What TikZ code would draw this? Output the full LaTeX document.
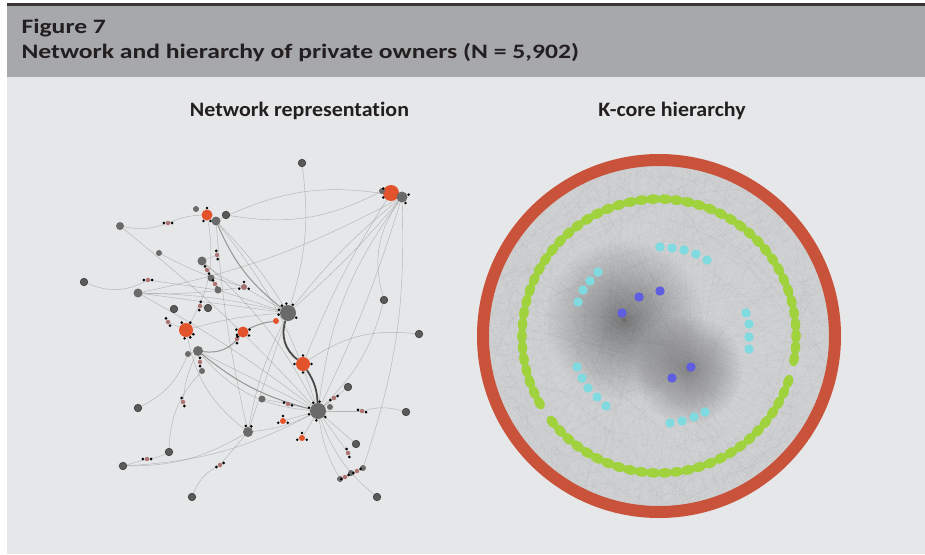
\documentclass[tikz,border=0pt]{standalone}
\usepackage{fontspec}
\setmainfont{Carlito}
\newfontfamily\headfont[FakeStretch=1.25,Ligatures=NoCommon]{Carlito}
\newfontfamily\panelfont[FakeStretch=1.07,Ligatures=NoCommon]{Carlito}
\usetikzlibrary{arrows,backgrounds}

\definecolor{bandgray}{HTML}{A7A8AB}
\definecolor{pagegray}{HTML}{E6E7E8}
\definecolor{inkblack}{HTML}{231F20}
\definecolor{ringred}{HTML}{C9533A}
\definecolor{coregreen}{HTML}{A0D23E}
\definecolor{corecyan}{HTML}{80DBE1}
\definecolor{coreblue}{HTML}{5F5EE0}
\definecolor{diskgray}{HTML}{D0D1D3}
\definecolor{ownred}{HTML}{E2532B}
\definecolor{owngray}{HTML}{6A6A6A}
\definecolor{pairpink}{HTML}{B07272}

\tikzset{
  hub/.style={circle,fill=owngray,inner sep=0pt,minimum size=#1},
  owner/.style={circle,fill=ownred,inner sep=0pt,minimum size=#1},
  leaf/.style={circle,fill=owngray!85!black,draw=black!75,line width=0.7pt,inner sep=0pt,minimum size=7.5pt},
  pair/.style={circle,fill=pairpink,inner sep=0pt,minimum size=4.5pt},
  tie/.style={draw=black!45,line width=0.45pt,opacity=0.55},
  midtie/.style={draw=black!50,line width=1pt,opacity=0.8},
  strongtie/.style={draw=black!72,line width=1.8pt},
  kline/.style={draw=black!50,line width=0.2pt,opacity=0.08},
  heading/.style={anchor=base west,text=inkblack,font=\headfont\bfseries\fontsize{20.5}{24}\selectfont},
  panel/.style={anchor=base,text=inkblack,font=\panelfont\bfseries\fontsize{20.5}{24}\selectfont}
}

\newcommand{\ownpair}[3]{%
  \draw (#2) node (#1) [pair] {};
  \fill[black] (#1.center) ++(#3:4.2) circle (1.5pt);
  \fill[black] (#1.center) ++(#3+180:4.2) circle (1.5pt);}
\newcommand{\tipsat}[3]{%
  \foreach \t in {#3} \fill[black] (#1.center) ++(\t:#2) circle (1.4pt);}

\begin{document}
\begin{tikzpicture}[x=1pt,y=-1pt]
\useasboundingbox (0,0) rectangle (925,554);

\draw (18,33.3) node (fig) [heading] {Figure 7};
\draw (18,58.3) node (cap) [heading] {Network and hierarchy of private owners (N = 5,902)};
\draw (299.5,116.5) node (netlab) [panel] {Network representation};
\draw (672,116.5) node (kclab) [panel] {K-core hierarchy};

\draw (302,163) node (t1) [leaf] {};
\draw (391,193) node (o1) [owner=16pt] {};
\draw (402,197) node (h1) [hub=11pt] {};
\draw (382,191) node (s1) [hub=6pt] {};
\draw (207,215) node (o2) [owner=11pt] {};
\draw (216,221) node (h2) [hub=9pt] {};
\draw (226,215) node (l2) [leaf] {};
\draw (196,209) node (s2) [hub=6pt] {};
\draw (120,226) node (l4) [hub=8pt] {};
\ownpair{p1}{168,223}{0}
\draw (159,253) node (l5) [hub=6pt] {};
\ownpair{p2}{217,255}{80}
\draw (202,261) node (h3) [hub=9pt] {};
\ownpair{p3}{207,270}{60}
\draw (211,278) node (h4) [hub=7pt] {};
\ownpair{p4}{215,284}{60}
\draw (218,290) node (h5) [hub=7pt] {};
\draw (84,282) node (l6) [leaf] {};
\ownpair{p5}{148,280}{0}
\draw (138,293) node (h6) [hub=9pt] {};
\draw (244,287) node (c1) [hub=6pt,fill=pairpink!80!owngray] {};
\draw (174,309) node (l7) [leaf] {};
\draw (208,308) node (l8) [leaf] {};
\ownpair{p6}{200,306}{100}
\ownpair{p7}{168,322}{60}
\draw (186,330) node (o3) [owner=14pt] {};
\draw (243,332) node (o4) [owner=11pt] {};
\ownpair{p8}{237,339}{90}
\draw (288,313) node (h7) [hub=16pt] {};
\draw (276,321) node (o5) [owner=6pt] {};
\draw (384,300) node (l9) [leaf] {};
\draw (419,334) node (l10) [leaf] {};
\draw (198,351) node (h8) [hub=10pt] {};
\draw (188,354) node (s8) [hub=6pt] {};
\ownpair{p9}{200,362}{90}
\draw (202,371) node (h9) [hub=6pt] {};
\draw (303,364) node (o6) [owner=14pt] {};
\draw (138,408) node (l12) [leaf] {};
\ownpair{p10}{183,402}{70}
\draw (262,399) node (h10) [hub=7pt] {};
\ownpair{p11}{288,404}{20}
\ownpair{p12}{334,398}{150}
\draw (348,387) node (l13) [leaf] {};
\draw (318,411) node (h11) [hub=16pt] {};
\draw (330,407) node (s11) [hub=6pt] {};
\ownpair{p13}{362,411}{15}
\draw (406,412) node (l15) [leaf] {};
\draw (283,421) node (o7) [owner=6pt] {};
\draw (248,432) node (h12) [hub=10pt] {};
\draw (302,438) node (o8) [owner=6pt] {};
\draw (356,444) node (l16) [leaf] {};
\draw (169,452) node (l17) [leaf] {};
\ownpair{p14}{147,459}{0}
\draw (123,466) node (l18) [leaf] {};
\ownpair{p15}{220,465}{150}
\ownpair{p16}{348,453}{70}
\draw (363,468) node (h13) [hub=6pt] {};
\draw (351,473) node (h14) [hub=6pt] {};
\draw (340,479) node (h15) [hub=6pt] {};
\ownpair{p17}{357,471}{150}
\ownpair{p18}{345,477}{150}
\draw (192,497) node (l19) [leaf] {};
\draw (377,497) node (l20) [leaf] {};

\tipsat{h7}{9.5}{-60,-100,-130,30,200,170}
\tipsat{h11}{9.5}{-120,-80,160,200,100,40}
\tipsat{o1}{9}{150,210}
\tipsat{h1}{7}{-20,60}
\tipsat{o2}{7}{120,60,-90}
\tipsat{o3}{8.5}{-60,-120,30,60,100}
\tipsat{o4}{7}{30,-20,140,200}
\tipsat{o6}{8.5}{-90,0,180,90}
\tipsat{o7}{5}{-90,20,160}
\tipsat{o8}{5}{-90,20,160}
\tipsat{c1}{5}{-90,20,160}
\tipsat{h12}{6.5}{-60,-110}

\begin{scope}[on background layer]
\fill[white] (0,0) rectangle (925,554);
\fill[bandgray] (7,5) rectangle (925,77);
\fill[inkblack!90] (7,3) rectangle (925,6);
\fill[pagegray] (7,77) rectangle (925,554);

\draw[tie] (t1) to[bend left=12] (h7);
\draw[tie] (l2) to[bend right=18] (s1);
\draw[tie] (h2) to[bend left=18] (h1);
\draw[tie] (l4) to[bend right=15] (p1);
\draw[tie] (p1) to[bend left=10] (o2);
\draw[tie] (h1) to[bend right=6] (h7);
\draw[tie] (h1) to[bend left=4] (h7);
\draw[tie] (h1) to[bend right=14] (h11);
\draw[tie] (h1) to[bend left=4] (h11);
\draw[tie] (h1) to[bend left=10] (h13);
\draw[tie] (h1) to[bend right=25] (l9);
\draw[tie] (h1) to[bend left=8] (h6);
\draw[midtie] (h2) to[bend right=14] (h7);
\draw[tie] (h2) to[bend left=6] (h7);
\draw[tie] (h2) to[bend left=10] (h11);
\draw[tie] (h2) to[bend right=4] (h12);
\draw[tie] (l4) to[bend left=4] (h11);
\draw[tie] (l6) to[bend right=25] (p5);
\draw[tie] (p5) -- (h5);
\draw[tie] (h6) -- (h7);
\draw[tie] (h6) to[bend right=5] (c1);
\draw[tie] (h6) to[bend left=6] (h7);
\draw[tie] (h6) to[bend left=4] (h11);
\draw[tie] (l5) to[bend right=6] (c1);
\draw[tie] (p2) -- (h3);
\draw[tie] (h3) -- (p3);
\draw[tie] (p3) -- (h4);
\draw[tie] (h4) -- (p4);
\draw[tie] (p4) -- (h5);
\draw[tie] (h3) to[bend left=10] (h11);
\draw[tie] (h3) to[bend right=10] (c1);
\draw[tie] (h5) -- (h7);
\draw[tie] (c1) -- (h7);
\draw[tie] (o3) to[bend left=6] (h7);
\draw[tie] (o3) to[bend right=20] (h12);
\draw[tie] (o2) to[bend left=20] (o3);
\draw[midtie] (h8) to[bend right=30] (o4);
\draw[midtie] (o4) to[bend left=10] (o5);
\draw[strongtie] (h7) to[bend right=35] (o6);
\draw[strongtie] (o6) to[bend left=15] (h11);
\draw[midtie] (h8) to[bend right=12] (h11);
\draw[tie] (h8) to[bend right=22] (h11);
\draw[tie] (h8) -- (h11);
\draw[tie] (h8) -- (s8);
\draw[tie] (h8) -- (p9);
\draw[tie] (p9) -- (h9);
\draw[tie] (l12) to[bend right=20] (s8);
\draw[tie] (l18) -- (p14);
\draw[tie] (p14) to[bend right=10] (l17);
\draw[tie] (l17) to[bend left=20] (h9);
\draw[tie] (l18) to[bend right=12] (h11);
\draw[tie] (l18) to[bend right=15] (h12);
\draw[tie] (l19) to[bend left=20] (p15);
\draw[tie] (p15) -- (h12);
\draw[tie] (h12) -- (h7);
\draw[tie] (h12) to[bend left=8] (h7);
\draw[tie] (h12) to[bend right=10] (h11);
\draw[tie] (h10) -- (p11);
\draw[tie] (p11) -- (h11);
\draw[tie] (o7) -- (h11);
\draw[tie] (o8) -- (h11);
\draw[tie] (l20) to[bend left=15] (h11);
\draw[tie] (h13) -- (p17);
\draw[tie] (p17) -- (h14);
\draw[tie] (h14) -- (p18);
\draw[tie] (p18) -- (h15);
\draw[tie] (h15) to[bend left=10] (h11);
\draw[tie] (l16) -- (h11);
\draw[tie] (l15) to[bend right=15] (p13);
\draw[tie] (p13) -- (h11);
\draw[tie] (l13) -- (h11);
\draw[tie] (p12) -- (h11);
\draw[tie] (l10) to[bend right=20] (o6);
\draw[tie] (l9) to[bend left=15] (h11);
\draw[tie] (p10) to[bend left=10] (h8);
\draw[tie] (p16) -- (h11);
\draw[tie] (o1) to[bend right=5] (o6);
\draw[tie] (p8) -- (o4);
\draw[tie] (p6) -- (l8);
\draw[tie] (p7) -- (o3);
\end{scope}

\fill[diskgray] (659,336) circle (176pt);
\pgfmathsetseed{42}
\begin{scope}[shift={(659,336)}]
\foreach \a in {0,2,...,358} {
  \pgfmathsetmacro\sa{40+280*rnd}
  \pgfmathsetmacro\sb{40+280*rnd}
  \draw[kline] (\a:170) -- (\a+\sa:170);
  \draw[kline] (\a+1:170) -- (\a+1+\sb:170);
}
\end{scope}
\foreach \a in {0,4,...,356} {
  \draw[kline] (659,336) ++(\a:170) -- (624,320);
  \draw[kline] (659,336) ++(\a+2:170) -- (689,370);
}
\foreach \r in {2,4,...,80} \fill[black,opacity=0.0095] (624,320) circle (\r pt);
\foreach \r in {2,4,...,54} \fill[black,opacity=0.011] (689,370) circle (\r pt);
\draw[ringred,line width=12pt] (659,336) circle (176pt);

\foreach \k in {0,...,73} {
  \pgfmathsetmacro\a{360/74*\k}
  \ifnum\k=30 \else \ifnum\k=3 \else
    \fill[coregreen,shift={(659,336)},rotate=-\a] (137pt,0pt) ellipse (4.8pt and 7pt);
  \fi\fi
}

\foreach \p in {(660,247),(672,248),(684,250),(696,254),(707,260),
                (598,272),(590,281),(583,290),(578,302),
                (746,313),(749,324),(749,337),(749,349),
                (577,367),(582,378),(588,388),(597,397),(606,406),
                (670,423),(682,421),(694,417),(705,412)}
  \fill[corecyan] \p circle (4.7pt);
\foreach \p in {(622,313),(639,297),(660,291),(691,367),(672,378)}
  \fill[coreblue] \p circle (4.7pt);
\end{tikzpicture}
\end{document}
